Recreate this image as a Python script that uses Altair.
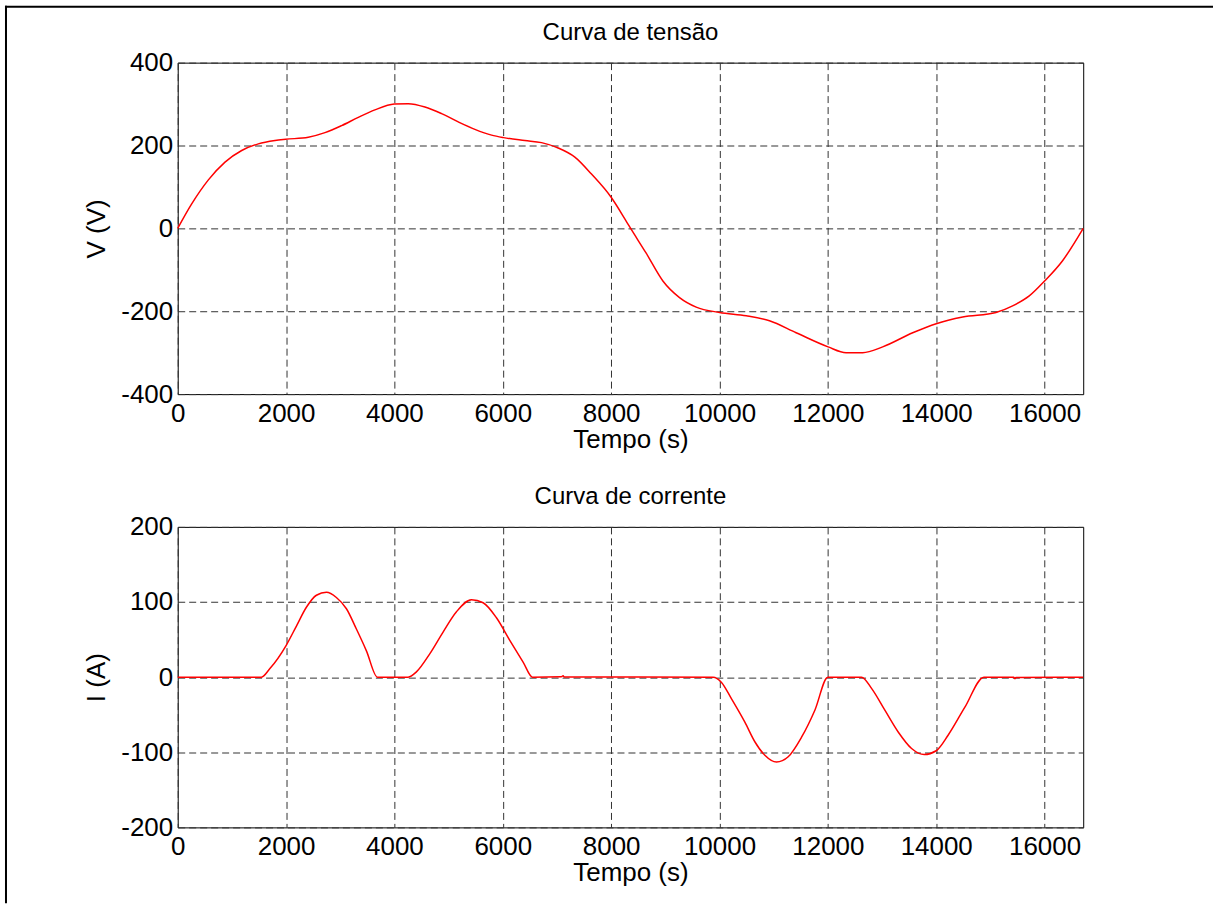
import altair as alt
import pandas as pd

# ---- data ----
t_v = [0, 258, 566, 873, 1181, 1488, 1796, 1993, 2410, 2718, 3025, 3333, 3640, 3997,
       4255, 4563, 4870, 5178, 5485, 5793, 6014, 6407, 6715, 7022, 7330, 7637, 8000,
       8252, 8340, 8647, 8955, 9262, 9570, 10000, 10492, 10922, 11414, 12004, 12336,
       12643, 13012, 13566, 14000, 14488, 15103, 15410, 15717, 16000, 16332, 16713]
v_vals = [0, 59, 117, 160, 188, 204, 212, 215, 220, 231, 248, 268, 286, 300,
          301, 293, 277, 257, 239, 225, 219, 212, 207, 194, 172, 131, 75,
          23, 4, -60, -127, -167, -190, -203, -211, -223, -252, -286, -300,
          -300, -286, -252, -230, -214, -203, -187, -163, -127, -78, 0]

t_i = [0, 1545, 1698, 2000, 2191, 2375, 2560, 2745, 2929, 3114, 3298, 3483, 3686,
       4252, 4406, 4652, 4898, 5145, 5422, 5637, 5883, 6129, 6375, 6548, 7080, 7114,
       7130, 9883, 10037, 10222, 10468, 10652, 10837, 11052, 11268, 11514, 11760,
       12000, 12622, 12806, 13052, 13298, 13545, 13778, 14000, 14222, 14529, 14880,
       15430, 15452, 15470, 16713]
i_vals = [0, 0, 11, 42, 68, 93, 109, 113, 106, 91, 64, 35, 0,
          0, 7, 31, 60, 87, 103, 99, 79, 49, 20, 0, 0.5, 2,
          0.3, 0, -7, -29, -60, -86, -104, -113, -106, -80, -44,
          0, 0, -15, -44, -73, -95, -103, -98, -77, -40, 0,
          0, -2, -0.5, 0]

titles = ["Curva de tensão", "Curva de corrente"]
x_title = "Tempo (s)"
y_titles = ["V (V)", "I (A)"]
x_ticks = [0, 2000, 4000, 6000, 8000, 10000, 12000, 14000, 16000]
v_ticks = [-400, -200, 0, 200, 400]
i_ticks = [-200, -100, 0, 100, 200]
x_domain = [0, 16713]
v_domain = [-400, 400]
i_domain = [-200, 200]

FONT = "Liberation Sans"
W = 907
H_TOP = 332
H_BOT = 301
GRID = dict(grid=True, gridDash=[7, 4], gridColor="#333333", gridWidth=1)
COMMON = dict(ticks=False, tickSize=0, domain=False, labelFlush=False,
              labelFont=FONT, titleFont=FONT, labelFontSize=26, titleFontSize=26,
              titleFontWeight="normal", labelColor="black", titleColor="black",
              labelExpr="'' + datum.value", labelOverlap=False)


def x_enc():
    return alt.X("t:Q", scale=alt.Scale(domain=x_domain, nice=False, zero=False),
                 axis=alt.Axis(title=x_title, values=x_ticks, labelPadding=6,
                               titleBaseline="alphabetic", titleY=53, **GRID, **COMMON))


def y_enc(field, title, dom, ticks, h):
    return alt.Y(f"{field}:Q", scale=alt.Scale(domain=dom, nice=False, zero=False),
                 axis=alt.Axis(title=title, values=ticks, labelPadding=5,
                               titleX=-81, titleY=h / 2, titleBaseline="middle",
                               titleAlign="center", titleAngle=270, **GRID, **COMMON))


def title_layer(txt):
    return alt.Chart(pd.DataFrame({"txt": [txt]})).mark_text(
        font=FONT, fontSize=24, baseline="middle", align="center", color="black"
    ).encode(text="txt:N", x=alt.value(W / 2), y=alt.value(-30))


dummy = pd.DataFrame({"d": [0]})
frame_left = alt.Chart(dummy).mark_rule(color="black", strokeWidth=2).encode(
    x=alt.value(-172), y=alt.value(-57), y2=alt.value(842))
frame_top = alt.Chart(dummy).mark_rule(color="black", strokeWidth=2).encode(
    x=alt.value(-173), x2=alt.value(1037), y=alt.value(-56))

v_df = pd.DataFrame({"t": t_v, "v": v_vals})
i_df = pd.DataFrame({"t": t_i, "i": i_vals})

v_line = alt.Chart(v_df).mark_line(color="#ff0000", strokeWidth=1.5, interpolate="monotone").encode(
    x=x_enc(), y=y_enc("v", y_titles[0], v_domain, v_ticks, H_TOP))
i_line = alt.Chart(i_df).mark_line(color="#ff0000", strokeWidth=1.5, interpolate="monotone").encode(
    x=x_enc(), y=y_enc("i", y_titles[1], i_domain, i_ticks, H_BOT))

top = alt.layer(v_line, title_layer(titles[0]), frame_left, frame_top).properties(width=W, height=H_TOP)
bottom = alt.layer(i_line, title_layer(titles[1])).properties(width=W, height=H_BOT)

chart = alt.vconcat(top, bottom, spacing=133, bounds="flush").properties(
    padding={"left": 3, "top": 3, "right": 0, "bottom": 0}, background="white"
).configure_view(stroke="black", strokeWidth=1, fill="white")

chart.save("out.html", embed_options={"renderer": "svg", "actions": False})
